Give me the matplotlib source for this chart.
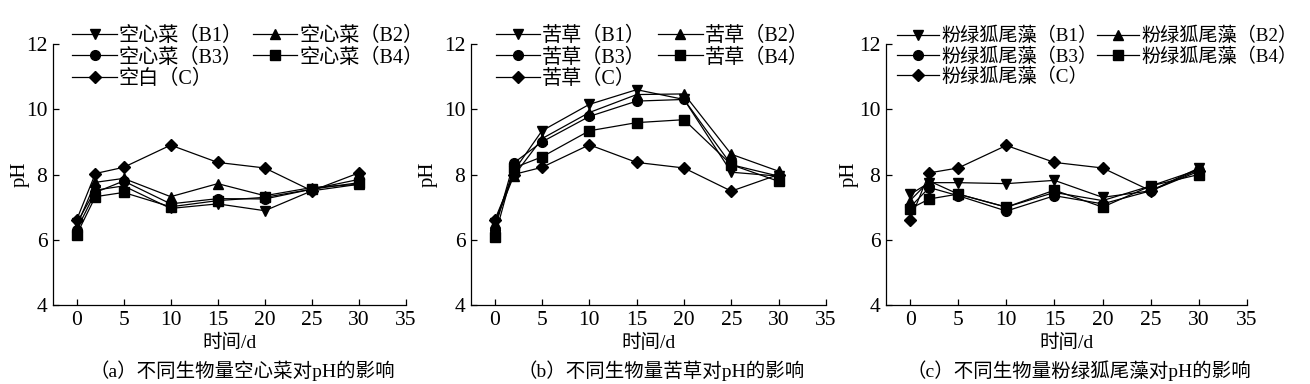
import matplotlib
matplotlib.use("Agg")
import matplotlib.pyplot as plt

plt.rcParams['font.family'] = ['Liberation Serif', 'Noto Sans CJK SC']
plt.rcParams['axes.unicode_minus'] = False

# 时间点 (d)
days = [0, 2, 5, 10, 15, 20, 25, 30]

# (a) 空心菜
a_b1 = [6.5, 7.52, 7.65, 6.96, 7.1, 6.89, 7.5, 7.7]
a_b2 = [6.4, 7.76, 7.88, 7.32, 7.72, 7.35, 7.6, 7.7]
a_b3 = [6.3, 7.45, 7.8, 7.1, 7.26, 7.25, 7.55, 7.85]
a_b4 = [6.15, 7.32, 7.45, 7.01, 7.2, 7.3, 7.55, 7.75]
a_c = [6.6, 8.03, 8.22, 8.9, 8.37, 8.2, 7.5, 8.05]

# (b) 苦草
b_b1 = [6.5, 8.1, 9.34, 10.15, 10.6, 10.3, 8.07, 7.95]
b_b2 = [6.5, 7.95, 9.1, 9.9, 10.45, 10.47, 8.62, 8.1]
b_b3 = [6.3, 8.35, 9.0, 9.78, 10.25, 10.3, 8.3, 7.95]
b_b4 = [6.08, 8.2, 8.54, 9.34, 9.59, 9.68, 8.3, 7.79]
b_c = [6.6, 8.0, 8.22, 8.91, 8.37, 8.2, 7.49, 8.0]

# (c) 粉绿狐尾藻
c_b1 = [7.39, 7.75, 7.75, 7.72, 7.82, 7.3, 7.5, 8.2]
c_b2 = [7.2, 7.8, 7.4, 7.0, 7.45, 7.2, 7.65, 8.15]
c_b3 = [7.0, 7.6, 7.35, 6.88, 7.35, 7.1, 7.5, 8.15]
c_b4 = [6.95, 7.25, 7.4, 7.0, 7.52, 7.0, 7.65, 8.0]
c_c = [6.6, 8.05, 8.2, 8.89, 8.37, 8.2, 7.5, 8.1]

names = ['空心菜', '苦草', '粉绿狐尾藻']
blank_names = ['空白', '苦草', '粉绿狐尾藻']
captions = ['（a）不同生物量空心菜对pH的影响',
            '（b）不同生物量苦草对pH的影响',
            '（c）不同生物量粉绿狐尾藻对pH的影响']
panel_data = [
    [a_b1, a_b2, a_b3, a_b4, a_c],
    [b_b1, b_b2, b_b3, b_b4, b_c],
    [c_b1, c_b2, c_b3, c_b4, c_c],
]
markers = ['v', '^', 'o', 's', 'D']
suffix = ['（B1）', '（B2）', '（B3）', '（B4）', '（C）']

fig = plt.figure(figsize=(13.1, 3.84), dpi=100)
rects = [
    [53 / 1310, 79 / 384, 353 / 1310, 261 / 384],
    [471 / 1310, 79 / 384, 355 / 1310, 261 / 384],
    [886 / 1310, 79 / 384, 361 / 1310, 261 / 384],
]
leg_x = [0.055, 0.07, 0.03]
col_sp = [0.5, 0.6, 0.0]
leg_fs = [14.5, 14.5, 13.8]
ylab_x = [-0.065, -0.093, -0.075]

for i, rect in enumerate(rects):
    ax = fig.add_axes(rect)
    lines = []
    for j, series in enumerate(panel_data[i]):
        if j == 4:
            lab = blank_names[i] + suffix[j]
        else:
            lab = names[i] + suffix[j]
        ln, = ax.plot(days, series, color='black', linewidth=0.9, marker=markers[j],
                      markersize=7 if markers[j] != 'D' else 6.5,
                      markerfacecolor='black', markeredgecolor='black', label=lab)
        lines.append(ln)
    ax.set_xlim(-2.5, 35)
    ax.set_ylim(4, 12)
    ax.set_xticks([0, 5, 10, 15, 20, 25, 30, 35])
    ax.set_yticks([4, 6, 8, 10, 12])
    ax.spines['top'].set_visible(False)
    ax.spines['right'].set_visible(False)
    ax.spines['left'].set_linewidth(0.9)
    ax.spines['bottom'].set_linewidth(0.9)
    ax.tick_params(direction='in', length=4, width=0.9, labelsize=15.5, pad=4)
    ax.set_ylabel('pH', fontsize=15)
    ax.yaxis.set_label_coords(ylab_x[i], 0.5)
    ax.set_xlabel('时间/d', fontsize=14, labelpad=3)
    # 图例按行排列: B1 B2 / B3 B4 / C
    order = [0, 2, 4, 1, 3]
    ax.legend([lines[k] for k in order], [lines[k].get_label() for k in order],
              loc='upper left', bbox_to_anchor=(leg_x[i], 1.065), ncol=2,
              frameon=False, fontsize=leg_fs[i], borderaxespad=0, borderpad=0,
              handlelength=2.2, handletextpad=0.1, labelspacing=0.1,
              columnspacing=col_sp[i])
    ax.text(0.535, -0.25, captions[i], transform=ax.transAxes, ha='center',
            va='center', fontsize=14)

fig.savefig('out.png', dpi=100)
